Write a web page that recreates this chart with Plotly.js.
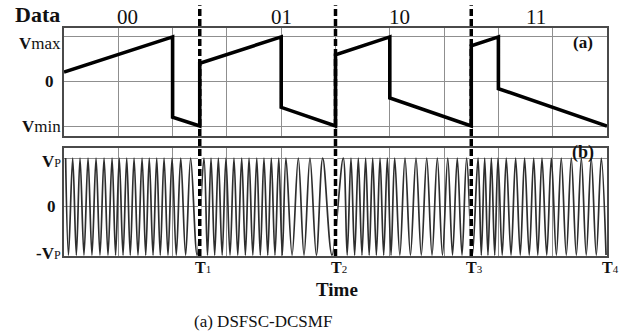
<!DOCTYPE html>
<html><head><meta charset="utf-8">
<script src="https://cdn.plot.ly/plotly-3.0.1.min.js"></script>
<style>html,body{margin:0;padding:0;background:#fff;}#chart{width:625px;height:336px;}</style>
</head><body><div id="chart"></div>
<script>
// ---- Panel (a): piecewise-linear control voltage (time in units of T) ----
const timeA = [0, 0.8, 0.8, 1, 1, 1.6, 1.6, 2, 2, 2.4, 2.4, 3, 3, 3.2, 3.2, 4];
const voltA = [0.21, 1, -0.8, -1, 0.41, 1, -0.58, -1, 0.6, 1, -0.37, -1, 0.8, 1, -0.16, -1];

// ---- Panel (b): chirp signal, peak (+Vp) and trough (-Vp) times ----
const peakTimes = [0.012, 0.064, 0.118, 0.177, 0.236, 0.295, 0.354, 0.407, 0.462, 0.516, 0.575, 0.628, 0.683, 0.737, 0.796, 0.860, 0.933,
  1.031, 1.083, 1.137, 1.193, 1.252, 1.309, 1.363, 1.420, 1.473, 1.527, 1.582, 1.635, 1.726, 1.812, 1.906,
  2.057, 2.114, 2.168, 2.222, 2.274, 2.328, 2.382, 2.436, 2.512, 2.593, 2.672, 2.750, 2.827, 2.897, 2.966,
  3.050, 3.099, 3.148, 3.197, 3.258, 3.327, 3.393, 3.460, 3.521, 3.590, 3.663, 3.737, 3.811, 3.884, 3.958];
const troughTimes = [0.033, 0.091, 0.147, 0.206, 0.265, 0.324, 0.380, 0.435, 0.488, 0.545, 0.602, 0.656, 0.709, 0.766, 0.827, 0.896, 0.980,
  1.057, 1.110, 1.165, 1.223, 1.280, 1.336, 1.391, 1.446, 1.501, 1.554, 1.608, 1.680, 1.768, 1.859, 1.974,
  2.086, 2.141, 2.195, 2.248, 2.301, 2.355, 2.409, 2.474, 2.552, 2.632, 2.711, 2.788, 2.862, 2.932, 3.008,
  3.074, 3.123, 3.173, 3.228, 3.293, 3.361, 3.427, 3.490, 3.556, 3.627, 3.700, 3.774, 3.847, 3.921, 3.993];
const peakLevel = 1, troughLevel = -1;

// ---- Labels ----
const dataLabels = ['00', '01', '10', '11'];
const dataLabelTimes = [0.47, 1.6, 2.47, 3.48];
const boundaryTimes = [1, 2, 3];
const timeTickVals = [1, 2, 3, 4];
const timeTickSubs = ['1', '2', '3', '4'];
const gridTimes = [0.4, 0.8, 1.2, 1.6, 2, 2.4, 2.8, 3.2, 3.6, 4];
const aTickVals = [1, 0, -1];
const aTickText = ['<b>V</b>max', '<b>0</b>', '<b>V</b>min'];
const bTickVals = [1, 0, -1];
const bTickText = ['<b>V</b><span style="font-size:12px">P</span>', '<b>0</b>', '<b>-V</b><span style="font-size:12px">P</span>'];

// build chirp polyline from read extrema
const ext = peakTimes.map(t => [t, peakLevel]).concat(troughTimes.map(t => [t, troughLevel]));
ext.sort((a, b) => a[0] - b[0]);
const timeB = ext.map(p => p[0]);
const voltB = ext.map(p => p[1]);

const serif = '"Liberation Serif", "Times New Roman", serif';
const gridC = '#8f8f8f', lineC = '#4a4a4a';

const traces = [
  {x: timeA, y: voltA, xaxis: 'x', yaxis: 'y', mode: 'lines', line: {color: '#000', width: 3.6}, hoverinfo: 'skip'},
  {x: timeB, y: voltB, xaxis: 'x2', yaxis: 'y2', mode: 'lines', line: {color: '#2e2e2e', width: 1.7, shape: 'spline', smoothing: 1}, hoverinfo: 'skip'}
];

const axX = {range: [0, 4], tickvals: gridTimes, showticklabels: false, ticks: '', showgrid: true, gridcolor: gridC, gridwidth: 1,
  zeroline: false, showline: true, mirror: true, linecolor: lineC, linewidth: 2, fixedrange: true};
const axY = {showticklabels: false, ticks: '', showgrid: true, gridcolor: gridC, gridwidth: 1,
  zeroline: false, showline: true, mirror: true, linecolor: lineC, linewidth: 2, fixedrange: true};

const ann = [];
ann.push({xref: 'paper', yref: 'paper', x: -0.048, y: 1.061, text: '<b>Data</b>', showarrow: false, font: {family: serif, size: 22, color: '#111'}, xanchor: 'center', yanchor: 'middle'});
dataLabels.forEach((s, i) => ann.push({xref: 'x', yref: 'paper', x: dataLabelTimes[i], y: 1.05, text: s, showarrow: false,
  font: {family: serif, size: 21, color: '#111'}, xanchor: 'center', yanchor: 'middle'}));
const aShift = [-7, 0, 0];
aTickVals.forEach((v, i) => ann.push({xref: 'paper', yref: 'y', x: 0, y: v, yshift: aShift[i], xshift: i === 1 ? -8 : -1, text: aTickText[i], showarrow: false,
  font: {family: serif, size: 17, color: '#111'}, xanchor: 'right', yanchor: 'middle'}));
const bShift = [-3, 0, 2];
bTickVals.forEach((v, i) => ann.push({xref: 'paper', yref: 'y2', x: 0, y: v, yshift: bShift[i], xshift: i === 1 ? -6 : -1, text: bTickText[i], showarrow: false,
  font: {family: serif, size: 17, color: '#111'}, xanchor: 'right', yanchor: 'middle'}));
timeTickVals.forEach((v, i) => ann.push({xref: 'x2', yref: 'paper', x: v, y: 0, yshift: -11, xshift: 3, text: '<b>T</b><span style="font-size:11px">' + timeTickSubs[i] + '</span>', showarrow: false,
  font: {family: serif, size: 16, color: '#111'}, xanchor: 'center', yanchor: 'middle'}));
ann.push({xref: 'paper', yref: 'paper', x: 0.503, y: -0.148, text: '<b>Time</b>', showarrow: false, font: {family: serif, size: 19, color: '#111'}, xanchor: 'center', yanchor: 'middle'});
ann.push({xref: 'paper', yref: 'paper', x: 0.366, y: -0.289, text: '(a) DSFSC-DCSMF', showarrow: false, font: {family: serif, size: 17, color: '#111'}, xanchor: 'center', yanchor: 'middle'});
ann.push({xref: 'paper', yref: 'paper', x: 0.956, y: 0.936, text: '<b>(a)</b>', showarrow: false, font: {family: serif, size: 17, color: '#111'}, xanchor: 'center', yanchor: 'middle'});
ann.push({xref: 'paper', yref: 'paper', x: 0.956, y: 0.456, text: '<b>(b)</b>', showarrow: false, font: {family: serif, size: 18, color: '#111'}, xanchor: 'center', yanchor: 'middle'});

const shapes = [];
boundaryTimes.forEach(t => {
  shapes.push({type: 'line', xref: 'x2', yref: 'paper', x0: t, x1: t, y0: 0, y1: 0.474, line: {color: '#fff', width: 3.5}, layer: 'above'});
  shapes.push({type: 'line', xref: 'x2', yref: 'paper', x0: t, x1: t, y0: 0, y1: 1.1, line: {color: '#000', width: 3.5, dash: '7px,3px'}, layer: 'above'});
});

const layout = {
  width: 625, height: 336,
  margin: {l: 64, r: 18, t: 28, b: 80},
  paper_bgcolor: '#fff', plot_bgcolor: '#fff',
  showlegend: false,
  xaxis: Object.assign({}, axX, {anchor: 'y', domain: [0, 1]}),
  yaxis: Object.assign({}, axY, {anchor: 'x', domain: [0.526, 1], range: [-1.225, 1.2], tickvals: aTickVals}),
  xaxis2: Object.assign({}, axX, {anchor: 'y2', domain: [0, 1]}),
  yaxis2: Object.assign({}, axY, {anchor: 'x2', domain: [0, 0.474], range: [-1.02, 1.21], tickvals: bTickVals}),
  annotations: ann,
  shapes: shapes
};

Plotly.newPlot('chart', traces, layout, {staticPlot: true, displayModeBar: false});
</script>
</body></html>
